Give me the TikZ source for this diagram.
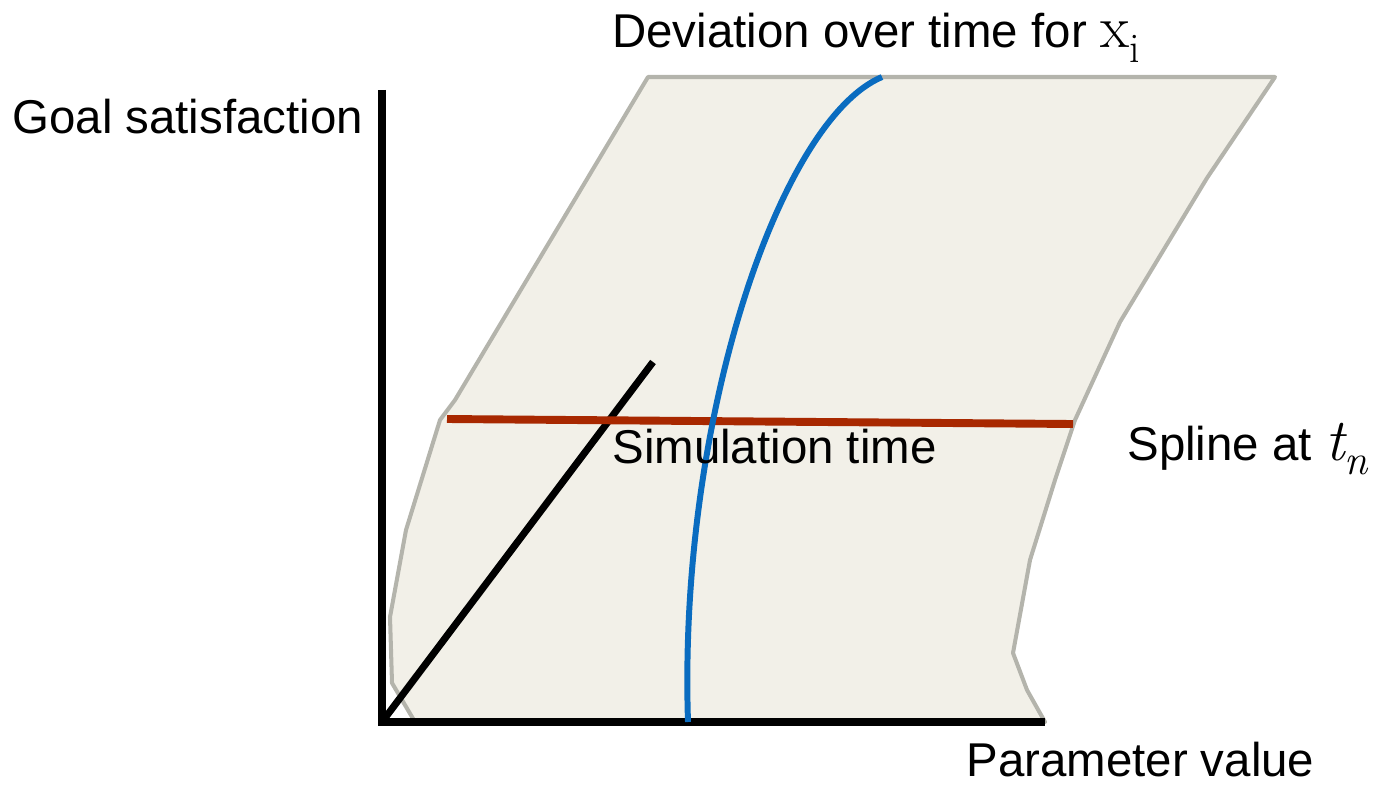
\documentclass[tikz,border=0pt]{standalone}
\usepackage{fontspec}
\setmainfont{Liberation Sans}
\newfontfamily\mathlike{Latin Modern Roman}
\usetikzlibrary{positioning}
\definecolor{sheet}{HTML}{F2F0E8}
\definecolor{sheetedge}{HTML}{B4B4AC}
\definecolor{devblue}{HTML}{0A6CC0}
\definecolor{splinered}{HTML}{A82800}
\newcommand{\lowsub}[1]{\raisebox{-0.25em}{\fontsize{24}{26}\selectfont #1}}

\begin{document}
\begin{tikzpicture}[
  x=0.02cm, y=-0.02cm,
  font=\fontsize{27}{32}\selectfont,
  lbl/.style={anchor=base west,inner sep=0pt},
  axis/.style={line width=4pt,draw=black},
  surf/.style={line width=2.3pt,draw=sheetedge,fill=sheet,line join=round},
  dev/.style={line width=3.4pt,draw=devblue},
  spl/.style={line width=4.5pt,draw=splinered}
]
\useasboundingbox (0,0) rectangle (1378,784);
% surface of goal satisfaction
\draw[surf] (415,722) -- (392,683) -- (390,617) -- (406,530) -- (440,420) -- (455,400)
  -- (648,77) -- (1275,77) -- (1207,178) -- (1120,322) -- (1075,420) -- (1055,480)
  -- (1030,560) -- (1013,653) -- (1027,690) -- (1045,722) -- cycle;
% axes
\coordinate (o) at (382,722);
\coordinate (ytop) at (382,90);
\coordinate (xend) at (1045,722);
\coordinate (zend) at (653,362);
\draw[axis] (ytop) -- (o) -- (xend);
\draw[axis] (o) -- (zend);
% spline and deviation
\coordinate (s1) at (447,419);
\coordinate (s2) at (1073,424);
\draw[spl] (s1) -- (s2);
\coordinate (d1) at (688,722);
\coordinate (d2) at (882,77);
\draw[dev] (d1) .. controls (678,420) and (780,120) .. (d2);
% labels
\node[lbl] (goal) at (12,133) {Goal satisfaction};
\node[lbl] (devlbl) at (612,48) {Deviation over time for {\mathlike\fontsize{34}{36}\selectfont x\lowsub{i}}};
\node[lbl] (simtime) at (612,463) {Simulation time};
\node[lbl] (spline) at (1127,460) {Spline at {\mathlike\itshape\fontsize{34}{36}\selectfont t\lowsub{n}}};
\node[lbl] (param) at (966,776) {Parameter value};
\end{tikzpicture}
\end{document}
